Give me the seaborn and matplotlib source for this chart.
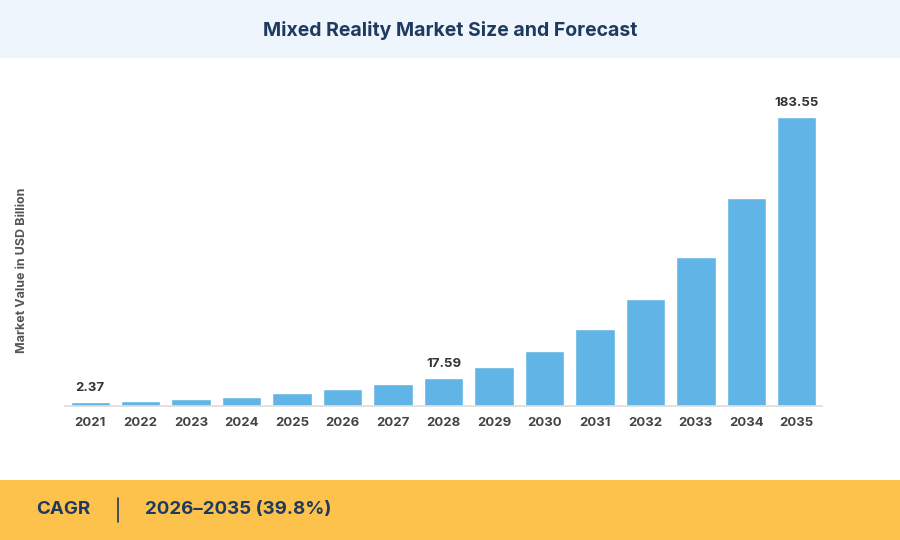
import matplotlib.pyplot as plt
import seaborn as sns
import pandas as pd

years = [str(y) for y in range(2021, 2036)]
values = [2.37, 3.3, 4.5, 6.0, 8.0, 10.5, 14.0, 17.59, 25.0, 35.0, 49.0, 68.0, 94.5, 132.0, 183.55]
labeled = {"2021": "2.37", "2028": "17.59", "2035": "183.55"}

sns.set_theme(style="white")
plt.rcParams["font.family"] = ["Inter", "DejaVu Sans"]

df = pd.DataFrame({"year": years, "value": values})

fig = plt.figure(figsize=(9, 5.4), dpi=100)
fig.patch.set_facecolor("white")

# header and footer bands
fig.patches.append(plt.Rectangle((0, 1 - 58 / 540), 1, 58 / 540, transform=fig.transFigure,
                                 facecolor="#eef5fc", edgecolor="none", zorder=0))
fig.patches.append(plt.Rectangle((0, 0), 1, 60 / 540, transform=fig.transFigure,
                                 facecolor="#fcc24c", edgecolor="none", zorder=0))
fig.text(0.5, 1 - 30 / 540, "Mixed Reality Market Size and Forecast", ha="center", va="center",
         fontsize=14, fontweight="bold", color="#1f3a5f")
fig.text(36 / 900, 30 / 540, "CAGR", ha="left", va="center", fontsize=13.5, fontweight="bold", color="#1f3a5f")
fig.add_artist(plt.Line2D([118 / 900, 118 / 900], [18 / 540, 42 / 540], color="#1f3a5f", lw=1.2))
fig.text(145 / 900, 30 / 540, "2026\u20132035 (39.8%)", ha="left", va="center", fontsize=13.5,
         fontweight="bold", color="#1f3a5f")
fig.text(22 / 900, 1 - 270 / 540, "Market Value in USD Billion", rotation=90, ha="center", va="center",
         fontsize=9, fontweight="bold", color="#555555")

ax = fig.add_axes([65 / 900, 1 - 406 / 540, 757 / 900, (406 - 80) / 540])
sns.barplot(data=df, x="year", y="value", color="#60b4e6", saturation=1, width=0.78, ax=ax)
ax.set_ylim(0, 207)
ax.set_yticks([])
ax.set_xlabel("")
ax.set_ylabel("")
for s in ["top", "right", "left"]:
    ax.spines[s].set_visible(False)
ax.spines["bottom"].set_color("#dddddd")
ax.tick_params(axis="x", length=0, labelsize=9.5, labelcolor="#444444", pad=8)
for lbl in ax.get_xticklabels():
    lbl.set_fontweight("bold")

for i, (y, v) in enumerate(zip(years, values)):
    if y in labeled:
        ax.text(i, v + 5, labeled[y], ha="center", va="bottom", fontsize=9.5, fontweight="bold", color="#333333")

fig.savefig("out.png", dpi=100)
